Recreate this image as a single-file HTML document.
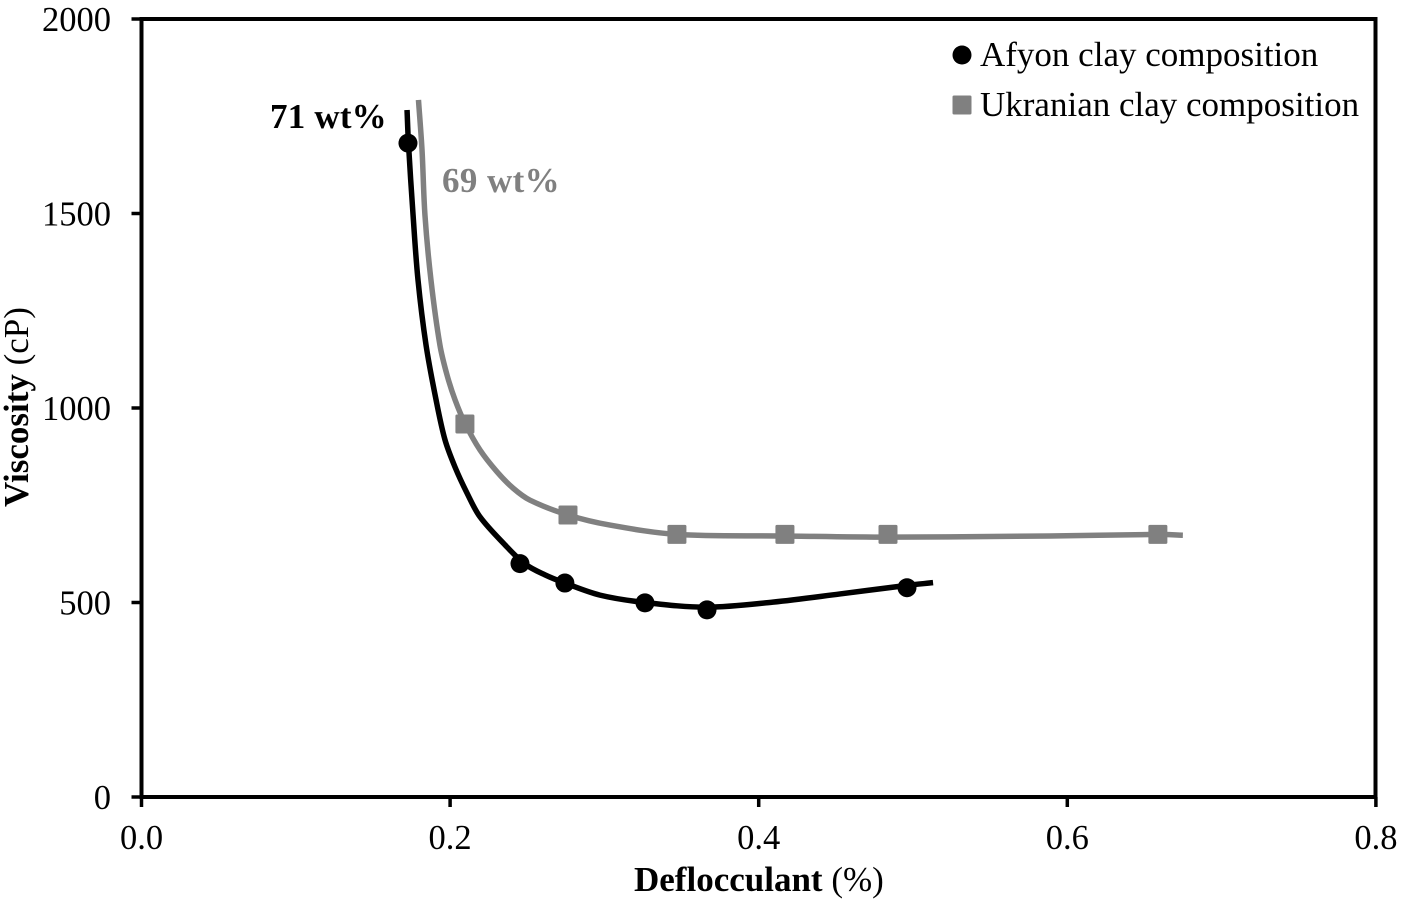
<!DOCTYPE html>
<html lang="en">
<head>
<meta charset="utf-8">
<title>Viscosity vs Deflocculant</title>
<style>
html,body{margin:0;padding:0;background:#fff;}
svg{display:block;}
text{font-family:"Liberation Serif",serif;fill:#000;}
.tick{font-size:34.5px;}
.lab{font-size:35px;}
</style>
</head>
<body>
<svg id="chart" xmlns="http://www.w3.org/2000/svg" width="1401" height="900" viewBox="0 0 1401 900">
  <rect x="141.5" y="19" width="1234" height="778" fill="none" stroke="#000" stroke-width="4"/>
  <g id="ticks"></g>
  <g id="series"></g>
  <text class="lab" x="634" y="891" font-weight="bold">Deflocculant <tspan font-weight="normal">(%)</tspan></text>
  <text class="lab" transform="translate(28,507) rotate(-90)" font-weight="bold">Viscosity <tspan font-weight="normal">(cP)</tspan></text>
  <text class="lab" x="270" y="128" font-weight="bold" letter-spacing="0.2">71 wt%</text>
  <text class="lab" x="442" y="192" font-weight="bold" letter-spacing="0.4" style="fill:#808080">69 wt%</text>
  <g>
    <circle cx="962" cy="55" r="9.5" fill="#000"/>
    <text class="lab" x="980" y="66">Afyon clay composition</text>
    <rect x="952.5" y="95.5" width="19" height="19" rx="1.5" fill="#808080"/>
    <text class="lab" x="980" y="116">Ukranian clay composition</text>
  </g>
</svg>
<script>
// Tick values
const xTicks = [0.0, 0.2, 0.4, 0.6, 0.8];
const yTicks = [0, 500, 1000, 1500, 2000];

// Measured points
const afyonX = [0.1727, 0.2453, 0.2744, 0.3263, 0.3665, 0.4961];
const afyonY = [1681, 600, 550, 499, 481, 538];
const ukranianX = [0.2096, 0.2764, 0.3470, 0.4170, 0.4838, 0.6587];
const ukranianY = [959, 725, 675, 675, 675, 675];

// Trend curves
const afyonCurveX = [0.1721, 0.1730, 0.1760, 0.1792, 0.1844, 0.1909, 0.1967, 0.2032, 0.2110, 0.2194, 0.2356, 0.2485, 0.2615, 0.2744, 0.2971, 0.3263, 0.3665, 0.4092, 0.4527, 0.4961, 0.5130];
const afyonCurveY = [1766, 1681, 1496, 1329, 1162, 1021, 918, 848, 781, 720, 648, 599, 571, 550, 519, 500, 488, 501, 522, 544, 551];
const ukranianCurveX = [0.1795, 0.1818, 0.1837, 0.1876, 0.1934, 0.1980, 0.2032, 0.2096, 0.2194, 0.2304, 0.2408, 0.2518, 0.2764, 0.3036, 0.3470, 0.4170, 0.4838, 0.5888, 0.6587, 0.6749];
const ukranianCurveY = [1792, 1663, 1496, 1329, 1162, 1085, 1021, 961, 892, 836, 794, 763, 725, 699, 675, 671, 668, 671, 675, 673];

const NS = 'http://www.w3.org/2000/svg';
const sx = v => 141.5 + 1543 * v;
const sy = v => 797 - 0.389 * v;

function make(tag, attrs, parent) {
  const el = document.createElementNS(NS, tag);
  for (const k in attrs) el.setAttribute(k, attrs[k]);
  parent.appendChild(el);
  return el;
}

// Smooth curve through data points; tangents follow neighbours, handle length follows chord
function curvePath(xs, ys) {
  const p = xs.map((x, i) => [sx(x), sy(ys[i])]);
  const t = p.map((pt, i) => {
    const a = p[Math.max(i - 1, 0)], b = p[Math.min(i + 1, p.length - 1)];
    const dx = b[0] - a[0], dy = b[1] - a[1], n = Math.hypot(dx, dy) || 1;
    return [dx / n, dy / n];
  });
  let d = 'M' + p[0][0].toFixed(2) + ' ' + p[0][1].toFixed(2);
  for (let i = 0; i < p.length - 1; i++) {
    const b = p[i], c = p[i + 1];
    const h = Math.hypot(c[0] - b[0], c[1] - b[1]) / 3;
    d += 'C' + (b[0] + t[i][0] * h).toFixed(2) + ' ' + (b[1] + t[i][1] * h).toFixed(2) + ' ' +
         (c[0] - t[i + 1][0] * h).toFixed(2) + ' ' + (c[1] - t[i + 1][1] * h).toFixed(2) + ' ' +
         c[0].toFixed(2) + ' ' + c[1].toFixed(2);
  }
  return d;
}

const tickLayer = document.getElementById('ticks');
const seriesLayer = document.getElementById('series');

xTicks.forEach(v => {
  const line = make('line', {x1: sx(v), x2: sx(v), y1: 797, y2: 807, stroke: '#000', 'stroke-width': 3.5}, tickLayer);
  
  
  const label = make('text', {x: sx(v), y: 849, 'text-anchor': 'middle', class: 'tick'}, tickLayer);
  label.textContent = v.toFixed(1);
  
  
});

yTicks.forEach(v => {
  const line = make('line', {x1: 131.5, x2: 141.5, y1: sy(v), y2: sy(v), stroke: '#000', 'stroke-width': 3.5}, tickLayer);
  
  
  const label = make('text', {x: 111, y: sy(v) + 12, 'text-anchor': 'end', class: 'tick'}, tickLayer);
  label.textContent = String(v);
  
  
});

const ukranianLine = make('path', {d: curvePath(ukranianCurveX, ukranianCurveY), fill: 'none', stroke: '#808080', 'stroke-width': 5.5}, seriesLayer);



const afyonLine = make('path', {d: curvePath(afyonCurveX, afyonCurveY), fill: 'none', stroke: '#000', 'stroke-width': 5.5}, seriesLayer);



ukranianX.forEach((x, i) => {
  const m = make('rect', {x: sx(x) - 9.5, y: sy(ukranianY[i]) - 9.5, width: 19, height: 19, rx: 1.5, fill: '#808080'}, seriesLayer);
  
  
});

afyonX.forEach((x, i) => {
  const m = make('circle', {cx: sx(x), cy: sy(afyonY[i]), r: 9.5, fill: '#000'}, seriesLayer);
  
  
});
</script>
</body>
</html>
